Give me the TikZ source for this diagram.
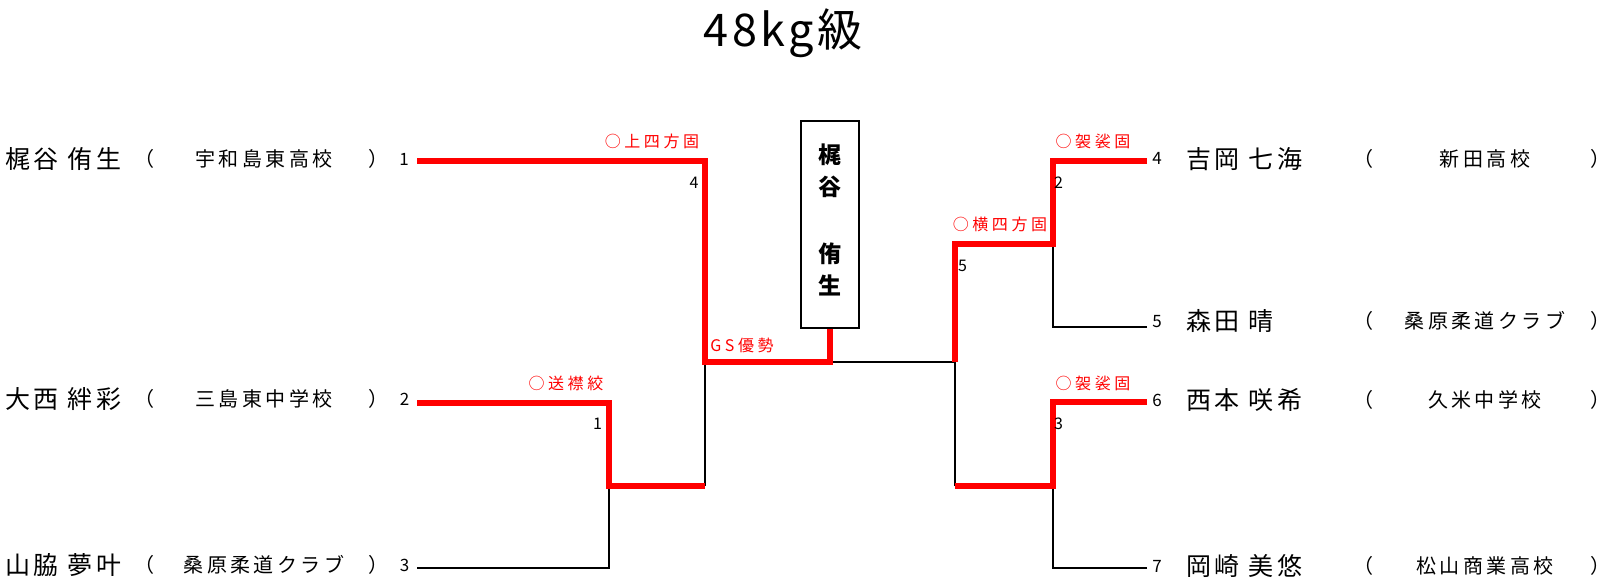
\documentclass[tikz,border=0pt]{standalone}
\usepackage{fontspec}
\setmainfont{Noto Sans CJK JP}
\newfontfamily\jp{Noto Sans CJK JP}
\newfontfamily\jpname[LetterSpace=14]{Noto Sans CJK JP}
\newfontfamily\jpschool[LetterSpace=17]{Noto Sans CJK JP}
\newfontfamily\jpred[LetterSpace=22]{Noto Sans CJK JP}
\newfontfamily\jptitle[LetterSpace=8]{Noto Sans CJK JP}
\tikzset{
  win/.style={draw=red, line width=6pt, line join=miter},
  lose/.style={draw=black, line width=2pt},
  nm/.style={font=\jpname\fontsize{25}{25}\selectfont, inner sep=0pt, anchor=west},
  sch/.style={font=\jpschool\fontsize{20}{20}\selectfont, inner sep=0pt},
  par/.style={font=\jp\fontsize{20}{20}\selectfont, inner sep=0pt},
  num/.style={font=\jp\fontsize{16}{16}\selectfont, inner sep=0pt},
  ent/.style={font=\jp\fontsize{17}{17}\selectfont, inner sep=0pt},
  tech/.style={font=\jpred\fontsize{16}{16}\selectfont, text=red, inner sep=0pt},
  champbox/.style={draw=black, line width=2pt, minimum width=58pt, minimum height=207pt, inner sep=0pt},
  champtxt/.style={font=\jp\bfseries\fontsize{23}{23}\selectfont, inner sep=0pt},
}
\begin{document}
\begin{tikzpicture}[x=1pt,y=-1pt]
\useasboundingbox (0,0) rectangle (1607,583);
% title
\node[font=\jptitle\fontsize{45}{45}\selectfont, anchor=base, inner sep=0pt] (title) at (783,47) {48kg級};
% champion box
\node[champbox] (champ) at (830,224.2) {};
\node[champtxt] (c1) at (829.5,155) {梶};
\node[champtxt] (c2) at (829.5,187) {谷};
\node[champtxt] (c3) at (829.5,254) {侑};
\node[champtxt] (c4) at (829.5,285) {生};
% bracket points
\coordinate (e1) at (417,161);
\coordinate (e2) at (417,402.5);
\coordinate (e3) at (417,568);
\coordinate (m1) at (609,486);
\coordinate (m4) at (705,362);
\coordinate (e4) at (1147,161);
\coordinate (e5) at (1147,327);
\coordinate (e6) at (1147,402);
\coordinate (e7) at (1147,568);
\coordinate (m2) at (1053,244);
\coordinate (m3) at (1053,486);
\coordinate (m5) at (955,362);
\coordinate (fin) at (830,362);
% losing lines
\draw[lose] (m1 -| m4) -- (m4);
\draw[lose] (e3) -- (e3 -| m1) -- (m1);
\draw[lose] (e5) -- (e5 -| m2) -- (m2);
\draw[lose] (m3 -| m5) -- (m5);
\draw[lose] (e7) -- (e7 -| m3) -- (m3);
\draw[lose] (fin) -- (m5);
% winning lines
\draw[win] (e1) -- (e1 -| m4) -- (m4) -- (fin) -- (champ.south);
\draw[win] (e2) -- (e2 -| m1) -- (m1) -- (m1 -| m4);
\draw[win] (e4) -- (e4 -| m2) -- (m2) -- (m2 -| m5) -- (m5);
\draw[win] (e6) -- (e6 -| m3) -- (m3) -- (m3 -| m5);
% technique labels
\node[tech] (t1) at (652,141) {○上四方固};
\node[tech] (t2) at (566,383) {○送襟絞};
\node[tech] (t3) at (742,345) {GS優勢};
\node[tech] (t4) at (1000,224.5) {○横四方固};
\node[tech] (t5) at (1093,141) {○袈裟固};
\node[tech] (t6) at (1093,383.5) {○袈裟固};
% match numbers
\node[num] (n4) at (694,182.5) {4};
\node[num] (n1) at (597.5,424) {1};
\node[num] (n5) at (962.5,266) {5};
\node[num] (n2) at (1058.5,182.5) {2};
\node[num] (n3) at (1058.5,424) {3};
% entry numbers
\node[ent] (s1) at (404,159) {1};
\node[ent] (s2) at (404.5,399) {2};
\node[ent] (s3) at (404.5,565.5) {3};
\node[ent] (s4) at (1157,158) {4};
\node[ent] (s5) at (1157,322) {5};
\node[ent] (s6) at (1157,400.5) {6};
\node[ent] (s7) at (1157,566) {7};
% left players
\node[nm] (p1) at (5,159) {梶谷 侑生};
\node[nm] (p2) at (5,399) {大西 絆彩};
\node[nm] (p3) at (5,565) {山脇 夢叶};
\node[par] (lo1) at (144,159) {（};
\node[par] (lo2) at (144,399) {（};
\node[par] (lo3) at (144,565) {（};
\node[sch] (q1) at (264,159) {宇和島東高校};
\node[sch] (q2) at (264,399) {三島東中学校};
\node[sch] (q3) at (264,565) {桑原柔道クラブ};
\node[par] (lc1) at (378,159) {）};
\node[par] (lc2) at (378,399) {）};
\node[par] (lc3) at (378,565) {）};
% right players
\node[nm] (p4) at (1186,159) {吉岡 七海};
\node[nm] (p5) at (1186,321) {森田 晴};
\node[nm] (p6) at (1186,400) {西本 咲希};
\node[nm] (p7) at (1186,566) {岡崎 美悠};
\node[par] (ro4) at (1363,159) {（};
\node[par] (ro5) at (1363,321) {（};
\node[par] (ro6) at (1363,400) {（};
\node[par] (ro7) at (1363,566) {（};
\node[sch] (q4) at (1485,159) {新田高校};
\node[sch] (q5) at (1485,321) {桑原柔道クラブ};
\node[sch] (q6) at (1485,400) {久米中学校};
\node[sch] (q7) at (1485,566) {松山商業高校};
\node[par] (rc4) at (1600,159) {）};
\node[par] (rc5) at (1600,321) {）};
\node[par] (rc6) at (1600,400) {）};
\node[par] (rc7) at (1600,566) {）};
\end{tikzpicture}
\end{document}
